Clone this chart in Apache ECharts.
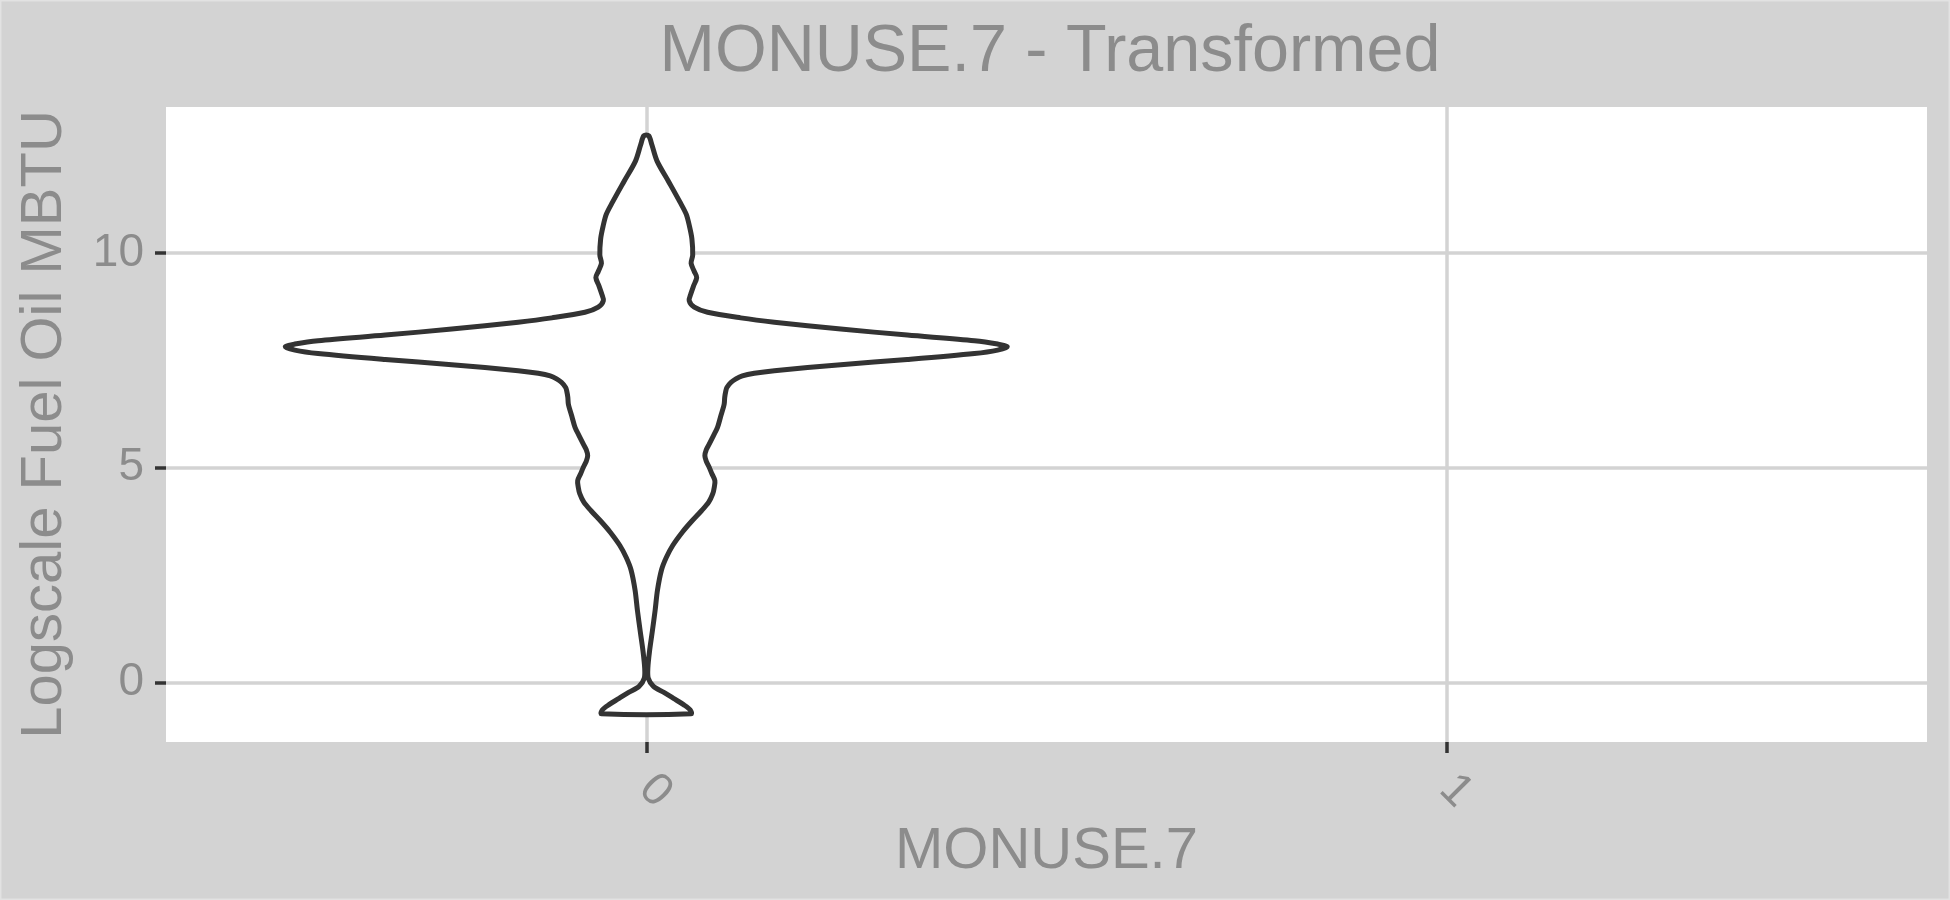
<!DOCTYPE html>
<html>
<head>
<meta charset="utf-8">
<script src="https://cdn.jsdelivr.net/npm/echarts@6/dist/echarts.min.js"></script>
<style>
html,body{margin:0;padding:0;background:#D3D3D3;}
#chart{width:1950px;height:900px;}
</style>
</head>
<body>
<div id="chart"></div>
<script>
// ---- data ----
const categories = ['0', '1'];
const categoryPositions = [0, 1];
const yTicks = [0, 5, 10];
// violin for category "0": y value and half-width (in category units)
const violinCategory = 0;
const violinY = [-0.73, -0.64, -0.52, -0.37, -0.23, -0.09, 0.10, 0.34, 0.72, 1.20, 1.67, 2.15, 2.62, 2.91, 3.19, 3.50, 3.76, 4.00, 4.20, 4.39, 4.55, 4.70, 4.86, 5.01, 5.15, 5.28, 5.42, 5.55, 5.75, 5.94, 6.20, 6.48, 6.64, 6.79, 6.87, 6.99, 7.07, 7.14, 7.20, 7.26, 7.40, 7.52, 7.66, 7.74, 7.82, 7.88, 7.96, 8.09, 8.23, 8.39, 8.49, 8.62, 8.74, 8.89, 9.05, 9.23, 9.43, 9.57, 9.76, 9.95, 10.33, 10.62, 10.90, 11.19, 11.66, 12.14, 12.52, 12.73];
const violinHalfWidth = [0.056, 0.055, 0.047, 0.034, 0.022, 0.009, 0.0025, 0.002, 0.004, 0.0076, 0.011, 0.014, 0.019, 0.025, 0.033, 0.045, 0.057, 0.069, 0.078, 0.083, 0.085, 0.0857, 0.082, 0.0786, 0.075, 0.0732, 0.075, 0.0786, 0.084, 0.089, 0.093, 0.0973, 0.098, 0.0994, 0.1007, 0.106, 0.112, 0.120, 0.135, 0.160, 0.243, 0.326, 0.410, 0.439, 0.451, 0.439, 0.410, 0.326, 0.243, 0.160, 0.118, 0.0766, 0.060, 0.0536, 0.0557, 0.059, 0.063, 0.060, 0.056, 0.058, 0.057, 0.054, 0.050, 0.042, 0.028, 0.0135, 0.0070, 0.003];

const textColor = '#8C8C8C';
const font = 'Liberation Sans, Arial, Helvetica, sans-serif';

const chart = echarts.init(document.getElementById('chart'), null, {renderer: 'canvas'});
const option = {
  backgroundColor: '#D3D3D3',
  animation: false,
  title: {
    text: 'MONUSE.7 - Transformed',
    left: 1045,
    top: 14,
    textAlign: 'center',
    textStyle: {color: textColor, fontSize: 66.5, fontWeight: 'normal', fontFamily: font}
  },
  graphic: [{
    type: 'rect', silent: true, z: 100,
    shape: {x: 0.75, y: 0.75, width: 1948.5, height: 898.5},
    style: {fill: 'none', stroke: '#E2E2E2', lineWidth: 1.5}
  }],
  grid: {
    left: 166, right: 23, top: 107, bottom: 158,
    show: true, backgroundColor: '#FFFFFF', borderWidth: 0
  },
  xAxis: {
    type: 'value',
    position: 'bottom',
    min: -0.6, max: 1.6,
    name: 'MONUSE.7',
    nameLocation: 'middle',
    nameGap: 78,
    nameTextStyle: {color: textColor, fontSize: 58, fontFamily: font},
    axisLine: {show: false, onZero: false},
    axisTick: {show: true, customValues: categoryPositions, length: 11, lineStyle: {color: '#333333', width: 3.5}},
    axisLabel: {
      customValues: categoryPositions,
      formatter: v => categories[categoryPositions.indexOf(v)],
      rotate: -45, margin: 40,
      color: textColor, fontSize: 46, fontFamily: font
    },
    splitLine: {show: true, customValues: categoryPositions, lineStyle: {color: '#D3D3D3', width: 3.5}}
  },
  yAxis: {
    type: 'value',
    position: 'left',
    min: -1.385, max: 13.40,
    name: 'Logscale Fuel Oil MBTU',
    nameLocation: 'middle',
    nameGap: 92,
    nameTextStyle: {color: textColor, fontSize: 58, fontFamily: font},
    axisLine: {show: false, onZero: false},
    axisTick: {show: true, customValues: yTicks, length: 11, lineStyle: {color: '#333333', width: 3.5}},
    axisLabel: {customValues: yTicks, margin: 22, color: textColor, fontSize: 46, fontFamily: font},
    splitLine: {show: true, customValues: yTicks, lineStyle: {color: '#D3D3D3', width: 3.5}}
  },
  series: [{
    type: 'custom',
    coordinateSystem: 'cartesian2d',
    data: [[violinCategory, violinY[0]]],
    renderItem: function (params, api) {
      const c = api.value(0);
      const pts = [];
      for (let i = 0; i < violinY.length; i++) pts.push(api.coord([c + violinHalfWidth[i], violinY[i]]));
      for (let i = violinY.length - 1; i >= 0; i--) pts.push(api.coord([c - violinHalfWidth[i], violinY[i]]));
      return {
        type: 'polygon',
        shape: {points: pts, smooth: 0.3},
        style: {fill: '#FFFFFF', stroke: '#333333', lineWidth: 5, lineJoin: 'round'}
      };
    }
  }]
};
chart.setOption(option);
</script>
</body>
</html>
